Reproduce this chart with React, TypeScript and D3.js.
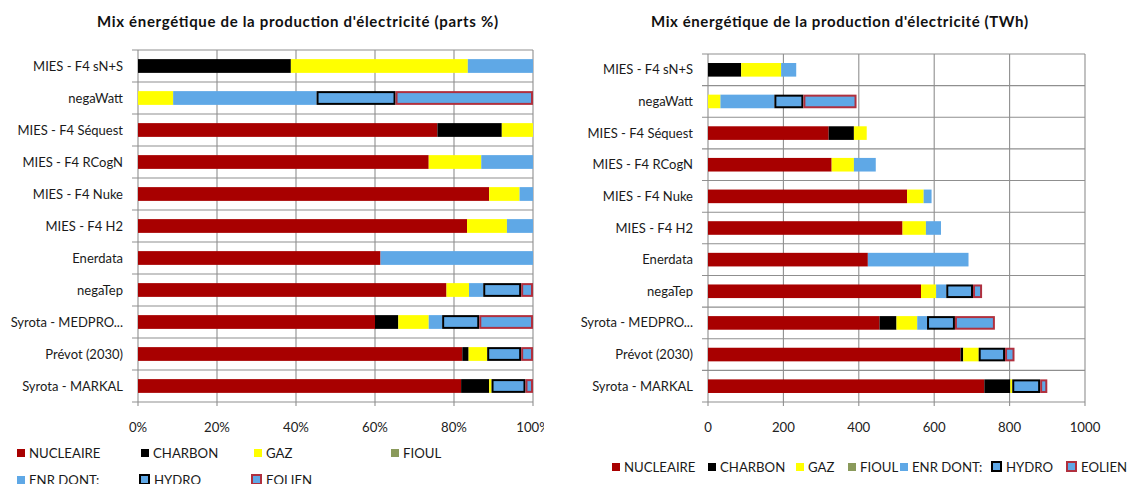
import React from "react";
import * as d3 from "d3";

// ---------- DATA ----------
const categories = [
  "MIES - F4 sN+S",
  "negaWatt",
  "MIES - F4 Séquest",
  "MIES - F4 RCogN",
  "MIES - F4 Nuke",
  "MIES - F4 H2",
  "Enerdata",
  "negaTep",
  "Syrota - MEDPRO...",
  "Prévot (2030)",
  "Syrota - MARKAL",
];

const seriesNames = ["NUCLEAIRE", "CHARBON", "GAZ", "FIOUL", "ENR DONT:", "HYDRO", "EOLIEN"];

// Left chart: shares (%)
const nucleairePct = [0, 0, 75.8, 73.6, 88.9, 83.3, 61.4, 78.1, 60.0, 82.1, 81.8];
const charbonPct = [38.7, 0, 16.3, 0, 0, 0, 0, 0, 5.9, 1.6, 7.1];
const gazPct = [44.8, 8.9, 7.9, 13.3, 7.7, 10.1, 0, 5.7, 7.7, 4.7, 0.6];
const fioulPct = [0, 0, 0, 0, 0, 0, 0, 0, 0, 0, 0];
const enrPct = [16.5, 36.3, 0, 13.1, 3.4, 6.6, 38.6, 3.6, 3.4, 0, 0];
const hydroPct = [0, 20.0, 0, 0, 0, 0, 0, 9.6, 9.4, 8.6, 8.6];
const eolienPct = [0, 34.8, 0, 0, 0, 0, 0, 3.0, 13.6, 3.0, 1.9];

// Right chart: TWh
const nucleaireTWh = [0, 0, 320, 328, 528, 516, 424, 565, 455, 670, 733];
const charbonTWh = [88, 0, 67, 0, 0, 0, 0, 0, 45, 7, 69];
const gazTWh = [106, 33, 34, 59, 44, 62, 0, 40, 55, 41, 5];
const fioulTWh = [0, 0, 0, 0, 0, 0, 0, 0, 0, 0, 0];
const enrTWh = [40, 143, 0, 58, 21, 40, 267, 27, 26, 0, 0];
const hydroTWh = [0, 77, 0, 0, 0, 0, 0, 71, 74, 70, 74];
const eolienTWh = [0, 141, 0, 0, 0, 0, 0, 24, 106, 25, 19];

const pctTicks = [0, 20, 40, 60, 80, 100];
const twhTicks = [0, 200, 400, 600, 800, 1000];

const titleLeft = "Mix énergétique de la production d'électricité (parts %)";
const titleRight = "Mix énergétique de la production d'électricité (TWh)";

// ---------- STYLE ----------
const FONT = "Lato, 'Open Sans', 'DejaVu Sans', sans-serif";
const BLUE = "#5FA8E6";
const fills: Record<string, string> = {
  NUCLEAIRE: "#A80000",
  CHARBON: "#000000",
  GAZ: "#FFFF00",
  FIOUL: "#8A9A5B",
  "ENR DONT:": BLUE,
  HYDRO: BLUE,
  EOLIEN: BLUE,
};
const strokes: Record<string, string | null> = {
  HYDRO: "#000000",
  EOLIEN: "#B0303E",
};
const GRID = "#8f8f8f";

function buildRows(arrs: number[][]) {
  return categories.map((c, i) => {
    const r: any = { cat: c };
    seriesNames.forEach((k, j) => (r[k] = arrs[j][i]));
    return r;
  });
}

type ChartProps = {
  id: string;
  rows: any[];
  x0: number;
  x1: number;
  top: number;
  bottom: number;
  labelRight: number;
  domainMax: number;
  ticks: number[];
  fmt: (v: number) => string;
  tickLabelY: number;
  clipRight?: number;
};

function Chart(p: ChartProps) {
  const x = d3.scaleLinear().domain([0, p.domainMax]).range([p.x0, p.x1]);
  const y = d3
    .scaleBand<string>()
    .domain(categories)
    .range([p.top, p.bottom])
    .paddingInner(0.57)
    .paddingOuter(0.285);
  const stack = d3.stack<any>().keys(seriesNames);
  const layers = stack(p.rows);
  const step = (p.bottom - p.top) / categories.length;
  const bounds = d3.range(categories.length + 1).map((i) => p.top + i * step);

  const plain = layers.filter((l) => !strokes[l.key]);
  const boxed = layers.filter((l) => strokes[l.key]);

  return (
    <g clipPath={p.clipRight ? `url(#clip-${p.id})` : undefined}>
      {p.clipRight && (
        <defs>
          <clipPath id={`clip-${p.id}`}>
            <rect x={0} y={0} width={p.clipRight} height={484} />
          </clipPath>
        </defs>
      )}
      {bounds.map((b, i) => (
        <line key={"h" + i} x1={p.x0 - 6} x2={p.x1} y1={b} y2={b} stroke={GRID} strokeWidth={1.1} />
      ))}
      {p.ticks.map((t) => (
        <line key={"v" + t} x1={x(t)} x2={x(t)} y1={p.top} y2={p.bottom + 4} stroke={GRID} strokeWidth={1.1} />
      ))}
      {plain.map((l) =>
        l.map((d, i) => {
          const w = x(d[1]) - x(d[0]);
          if (w <= 0.01) return null;
          return (
            <rect
              key={l.key + i}
              x={x(d[0])}
              y={y(categories[i])}
              width={w}
              height={y.bandwidth()}
              fill={fills[l.key]}
            />
          );
        })
      )}
      {boxed.map((l) =>
        l.map((d, i) => {
          const w = x(d[1]) - x(d[0]);
          if (w <= 0.01) return null;
          return (
            <rect
              key={l.key + i}
              x={x(d[0]) + 1}
              y={(y(categories[i]) as number) + 1}
              width={Math.max(0, w - 2)}
              height={y.bandwidth() - 2}
              fill={fills[l.key]}
              stroke={strokes[l.key] as string}
              strokeWidth={2}
            />
          );
        })
      )}
      {categories.map((c) => (
        <text
          key={"c" + c}
          x={p.labelRight}
          y={(y(c) as number) + y.bandwidth() / 2}
          dy="0.35em"
          textAnchor="end"
          fontFamily={FONT}
          fontSize={13}
          fill="#1a1a1a"
        >
          {c}
        </text>
      ))}
      {p.ticks.map((t) => (
        <text
          key={"t" + t}
          x={x(t)}
          y={p.tickLabelY}
          dy="0.35em"
          textAnchor="middle"
          fontFamily={FONT}
          fontSize={13.2}
          fill="#222"
        >
          {p.fmt(t)}
        </text>
      ))}
    </g>
  );
}

function LegendItem({ name, x, y }: { name: string; x: number; y: number }) {
  const boxed = !!strokes[name];
  return (
    <g>
      {boxed ? (
        <rect x={x + 1} y={y - 5} width={9} height={9} fill={fills[name]} stroke={strokes[name] as string} strokeWidth={2} />
      ) : (
        <rect x={x} y={y - 4} width={8} height={8} fill={fills[name]} />
      )}
      <text x={x + (boxed ? 15 : 12)} y={y} dy="0.35em" fontFamily={FONT} fontSize={13.2} fill="#1a1a1a">
        {name}
      </text>
    </g>
  );
}

const leftLegendPos = [
  [17, 453],
  [141, 453],
  [254, 453],
  [391, 453],
  [17, 480],
  [139, 480],
  [251, 480],
];
const rightLegendPos = [612, 708, 796, 848, 900, 991, 1066];

export default function App() {
  const leftRows = buildRows([nucleairePct, charbonPct, gazPct, fioulPct, enrPct, hydroPct, eolienPct]);
  const rightRows = buildRows([nucleaireTWh, charbonTWh, gazTWh, fioulTWh, enrTWh, hydroTWh, eolienTWh]);
  return (
    <svg
      width={1133}
      height={484}
      style={{ position: "absolute", left: 0, top: 0, display: "block", background: "#fff" }}
    >
      <rect x={0} y={0} width={1133} height={484} fill="#fff" />
      <text
        x={97}
        y={22}
        dy="0.35em"
        fontFamily={FONT}
        fontWeight="bold"
        fontSize={15}
        textLength={401}
        lengthAdjust="spacing"
        fill="#111"
      >
        {titleLeft}
      </text>
      <text
        x={651}
        y={22}
        dy="0.35em"
        fontFamily={FONT}
        fontWeight="bold"
        fontSize={15}
        textLength={377}
        lengthAdjust="spacing"
        fill="#111"
      >
        {titleRight}
      </text>
      <Chart
        id="pct"
        rows={leftRows}
        x0={138}
        x1={533}
        top={50}
        bottom={402}
        labelRight={123}
        domainMax={100}
        ticks={pctTicks}
        fmt={(v) => v + "%"}
        tickLabelY={427}
        clipRight={544}
      />
      <Chart
        id="twh"
        rows={rightRows}
        x0={708}
        x1={1085}
        top={54}
        bottom={402}
        labelRight={693}
        domainMax={1000}
        ticks={twhTicks}
        fmt={(v) => String(v)}
        tickLabelY={427}
      />
      {seriesNames.map((n, i) => (
        <LegendItem key={"l" + n} name={n} x={leftLegendPos[i][0]} y={leftLegendPos[i][1]} />
      ))}
      {seriesNames.map((n, i) => (
        <LegendItem key={"r" + n} name={n} x={rightLegendPos[i]} y={467} />
      ))}
    </svg>
  );
}
